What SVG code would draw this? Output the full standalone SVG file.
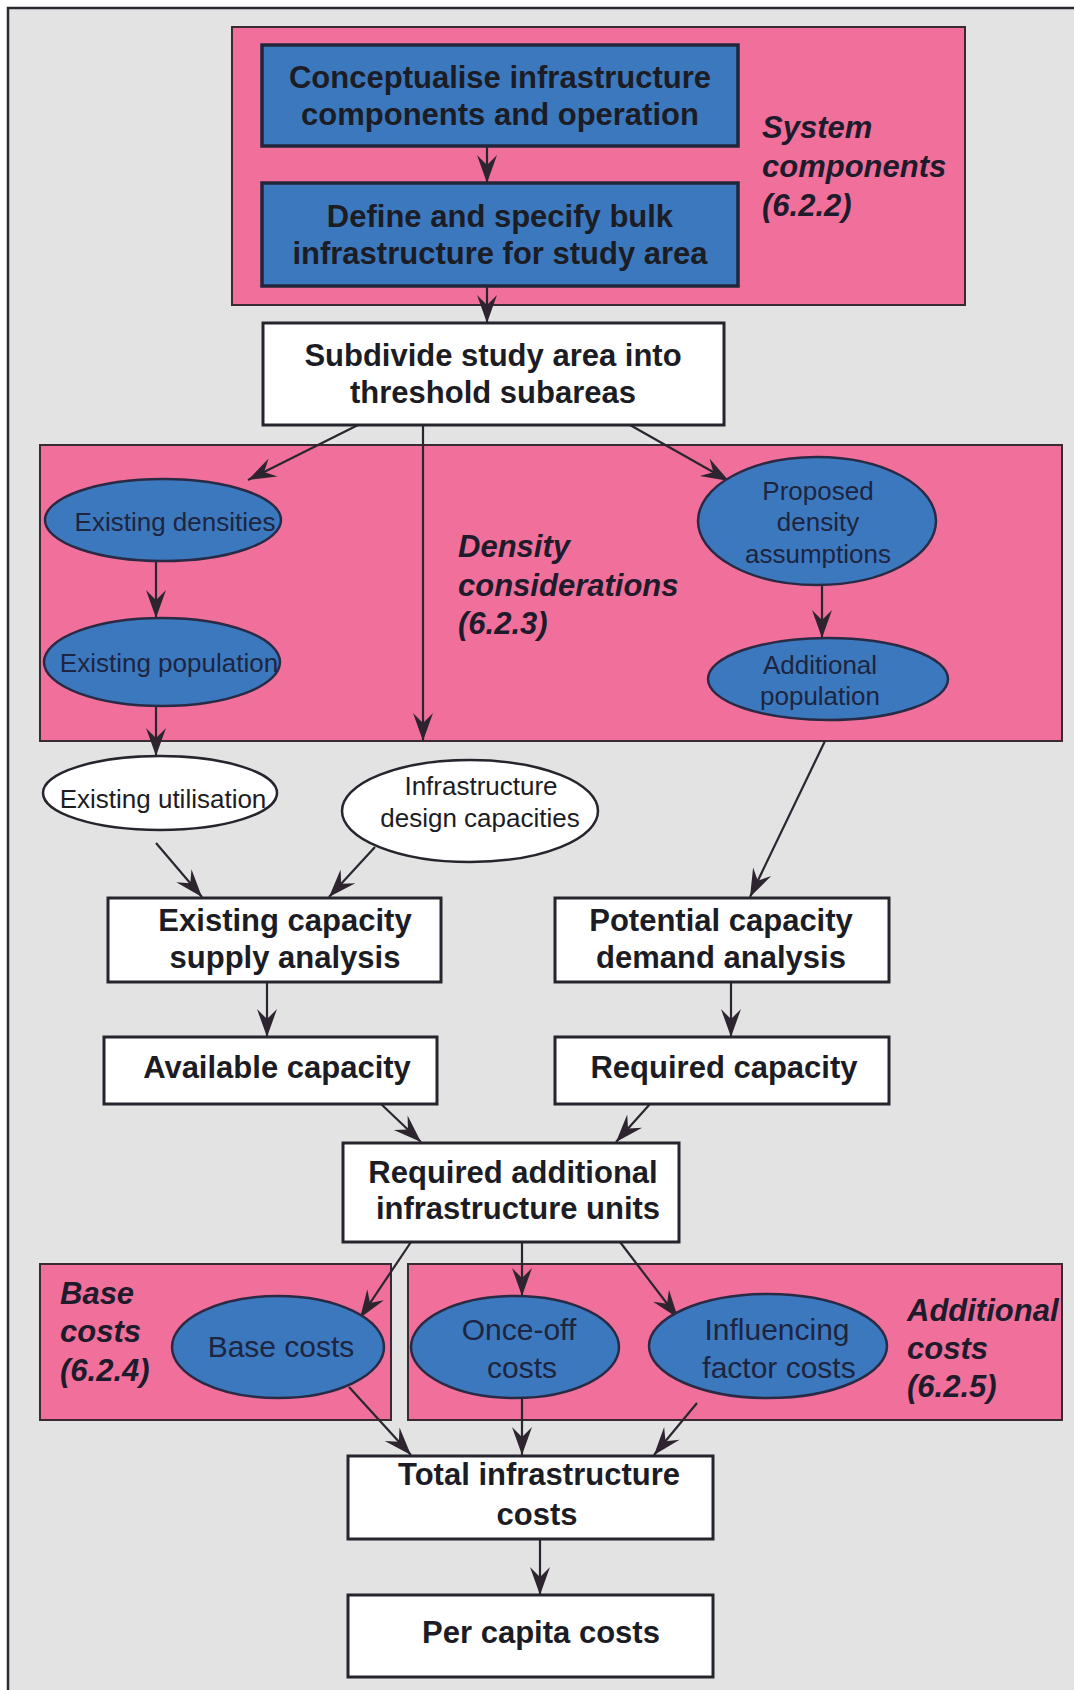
<svg xmlns="http://www.w3.org/2000/svg" width="1074" height="1690" viewBox="0 0 1074 1690">
  <style>
    .bg { fill: #e3e3e3; }
    .frame { stroke: #2a2a30; stroke-width: 2.5; fill: none; }
    .zone { fill: #f0709b; stroke: #3a2a34; stroke-width: 2; }
    .boxb { fill: #3c78be; stroke: #22263a; stroke-width: 3.5; }
    .boxw { fill: #ffffff; stroke: #26242c; stroke-width: 3; }
    .ellb { fill: #3c78be; stroke: #2a2a44; stroke-width: 2.5; }
    .ellw { fill: #ffffff; stroke: #26242c; stroke-width: 2.5; }
    .t { font-family: "Liberation Sans", Arial, sans-serif; text-anchor: middle; }
    .tb { font-size: 31px; font-weight: bold; fill: #1c1c24; }
    .tn { font-size: 26px; fill: #1d2540; }
    .tw { font-size: 26px; fill: #1c1c24; }
    .tc { font-size: 30px; fill: #1d2540; }
    .lab { font-family: "Liberation Sans", Arial, sans-serif; font-size: 31px; font-weight: bold; font-style: italic; fill: #1e1c2c; }
    .conn line { stroke: #2a2630; stroke-width: 2.2; marker-end: url(#arr); }
  </style>
  <defs>
    <marker id="arr" viewBox="-30 -12 32 24" markerWidth="32" markerHeight="24" refX="0" refY="0" markerUnits="userSpaceOnUse" orient="auto">
      <path d="M0,0 L-28,-10 L-18,0 L-28,10 Z" fill="#2e2430"/>
    </marker>
  </defs>

  <!-- page and frame -->
  <rect width="1074" height="1690" fill="#ffffff"/>
  <rect class="bg" x="8" y="8" width="1066" height="1682"/>
  <path class="frame" d="M1074,8 H8 V1690"/>

  <!-- grouping zones -->
  <g id="zone-system">
    <rect class="zone" x="232" y="27" width="733" height="278"/>
    <text class="lab" x="762" y="138">System</text>
    <text class="lab" x="762" y="177">components</text>
    <text class="lab" x="762" y="216">(6.2.2)</text>
  </g>
  <g id="zone-density">
    <rect class="zone" x="40" y="445" width="1022" height="296"/>
    <text class="lab" x="458" y="557">Density</text>
    <text class="lab" x="458" y="596">considerations</text>
    <text class="lab" x="458" y="634">(6.2.3)</text>
  </g>
  <g id="zone-base">
    <rect class="zone" x="40" y="1264" width="351" height="156"/>
    <text class="lab" x="60" y="1304">Base</text>
    <text class="lab" x="60" y="1342">costs</text>
    <text class="lab" x="60" y="1381">(6.2.4)</text>
  </g>
  <g id="zone-additional">
    <rect class="zone" x="408" y="1264" width="654" height="156"/>
    <text class="lab" x="907" y="1321">Additional</text>
    <text class="lab" x="907" y="1359">costs</text>
    <text class="lab" x="907" y="1397">(6.2.5)</text>
  </g>

  <!-- connectors -->
  <g id="connectors" class="conn">
    <line x1="487" y1="146" x2="487" y2="183"/>
    <line x1="487" y1="286" x2="487" y2="323"/>
    <line x1="358" y1="425" x2="248" y2="480"/>
    <line x1="423" y1="425" x2="423" y2="741"/>
    <line x1="630" y1="425" x2="729" y2="481"/>
    <line x1="156" y1="561" x2="156" y2="618"/>
    <line x1="156" y1="706" x2="156" y2="756"/>
    <line x1="822" y1="585" x2="822" y2="638"/>
    <line x1="825" y1="741" x2="750" y2="897"/>
    <line x1="156" y1="843" x2="202" y2="897"/>
    <line x1="375" y1="847" x2="329" y2="897"/>
    <line x1="267" y1="982" x2="267" y2="1037"/>
    <line x1="731" y1="982" x2="731" y2="1037"/>
    <line x1="381" y1="1104" x2="421" y2="1142"/>
    <line x1="650" y1="1104" x2="616" y2="1142"/>
    <line x1="411" y1="1242" x2="360" y2="1318"/>
    <line x1="522" y1="1242" x2="522" y2="1296"/>
    <line x1="620" y1="1242" x2="678" y2="1318"/>
    <line x1="349" y1="1387" x2="411" y2="1455"/>
    <line x1="522" y1="1398" x2="522" y2="1455"/>
    <line x1="697" y1="1403" x2="654" y2="1455"/>
    <line x1="540" y1="1540" x2="540" y2="1595"/>
  </g>

  <!-- nodes -->
  <g id="conceptualise">
    <rect class="boxb" x="262" y="45" width="476" height="101"/>
    <text class="t tb" x="500" y="88">Conceptualise infrastructure</text>
    <text class="t tb" x="500" y="125">components and operation</text>
  </g>
  <g id="define-bulk">
    <rect class="boxb" x="262" y="183" width="476" height="103"/>
    <text class="t tb" x="500" y="227">Define and specify bulk</text>
    <text class="t tb" x="500" y="264">infrastructure for study area</text>
  </g>
  <g id="subdivide">
    <rect class="boxw" x="263" y="323" width="461" height="102"/>
    <text class="t tb" x="493" y="366">Subdivide study area into</text>
    <text class="t tb" x="493" y="403">threshold subareas</text>
  </g>
  <g id="existing-densities">
    <ellipse class="ellb" cx="163" cy="520" rx="118" ry="41"/>
    <text class="t tn" x="175" y="531">Existing densities</text>
  </g>
  <g id="existing-population">
    <ellipse class="ellb" cx="162" cy="662" rx="118" ry="44"/>
    <text class="t tn" x="169" y="672">Existing population</text>
  </g>
  <g id="proposed-density">
    <ellipse class="ellb" cx="817" cy="521" rx="119" ry="64"/>
    <text class="t tn" x="818" y="500">Proposed</text>
    <text class="t tn" x="818" y="531">density</text>
    <text class="t tn" x="818" y="563">assumptions</text>
  </g>
  <g id="additional-population">
    <ellipse class="ellb" cx="828" cy="679" rx="120" ry="41"/>
    <text class="t tn" x="820" y="674">Additional</text>
    <text class="t tn" x="820" y="705">population</text>
  </g>
  <g id="existing-utilisation">
    <ellipse class="ellw" cx="160" cy="793" rx="117" ry="37"/>
    <text class="t tw" x="163" y="808">Existing utilisation</text>
  </g>
  <g id="design-capacities">
    <ellipse class="ellw" cx="470" cy="811" rx="128" ry="51"/>
    <text class="t tw" x="481" y="795">Infrastructure</text>
    <text class="t tw" x="480" y="827">design capacities</text>
  </g>
  <g id="supply-analysis">
    <rect class="boxw" x="108" y="898" width="333" height="84"/>
    <text class="t tb" x="285" y="931">Existing capacity</text>
    <text class="t tb" x="285" y="968">supply analysis</text>
  </g>
  <g id="demand-analysis">
    <rect class="boxw" x="555" y="898" width="334" height="84"/>
    <text class="t tb" x="721" y="931">Potential capacity</text>
    <text class="t tb" x="721" y="968">demand analysis</text>
  </g>
  <g id="available-capacity">
    <rect class="boxw" x="104" y="1037" width="333" height="67"/>
    <text class="t tb" x="277" y="1078">Available capacity</text>
  </g>
  <g id="required-capacity">
    <rect class="boxw" x="555" y="1037" width="334" height="67"/>
    <text class="t tb" x="724" y="1078">Required capacity</text>
  </g>
  <g id="additional-units">
    <rect class="boxw" x="343" y="1143" width="336" height="99"/>
    <text class="t tb" x="513" y="1183">Required additional</text>
    <text class="t tb" x="518" y="1219">infrastructure units</text>
  </g>
  <g id="base-costs">
    <ellipse class="ellb" cx="278" cy="1347" rx="106" ry="51"/>
    <text class="t tc" x="281" y="1357">Base costs</text>
  </g>
  <g id="once-off-costs">
    <ellipse class="ellb" cx="515" cy="1347" rx="104" ry="51"/>
    <text class="t tc" x="519" y="1340">Once-off</text>
    <text class="t tc" x="522" y="1378">costs</text>
  </g>
  <g id="influencing-costs">
    <ellipse class="ellb" cx="768" cy="1346" rx="119" ry="52"/>
    <text class="t tc" x="777" y="1340">Influencing</text>
    <text class="t tc" x="779" y="1378">factor costs</text>
  </g>
  <g id="total-costs">
    <rect class="boxw" x="348" y="1456" width="365" height="83"/>
    <text class="t tb" x="539" y="1485">Total infrastructure</text>
    <text class="t tb" x="537" y="1525">costs</text>
  </g>
  <g id="per-capita-costs">
    <rect class="boxw" x="348" y="1595" width="365" height="82"/>
    <text class="t tb" x="541" y="1643">Per capita costs</text>
  </g>
</svg>
